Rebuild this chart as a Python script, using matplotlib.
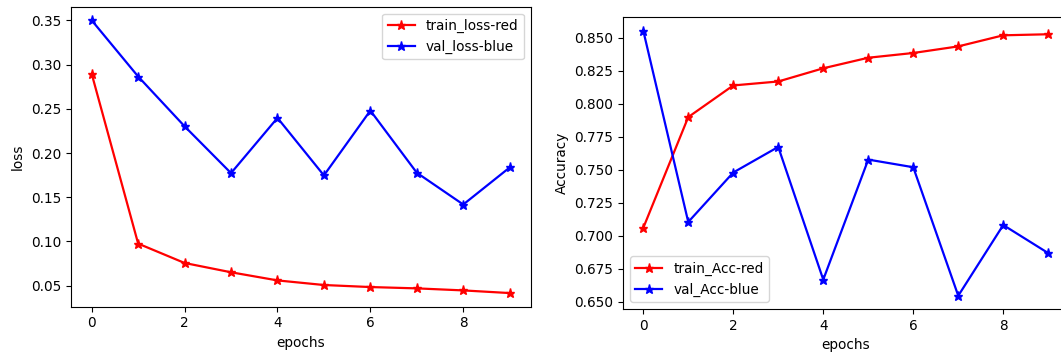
import numpy as np
import matplotlib
matplotlib.use("Agg")
import matplotlib.pyplot as plt

plt.rcParams['font.size'] = 9.8
plt.rcParams['lines.markersize'] = 6.7
plt.rcParams['lines.linewidth'] = 1.6

epochs = np.arange(10)
train_loss = [0.2895, 0.0976, 0.0757, 0.0652, 0.0560, 0.0508, 0.0485, 0.0470, 0.0447, 0.0417]
val_loss = [0.3500, 0.2865, 0.2302, 0.1773, 0.2397, 0.1747, 0.2480, 0.1777, 0.1418, 0.1837]
train_acc = [0.706, 0.790, 0.814, 0.817, 0.827, 0.835, 0.8386, 0.8436, 0.852, 0.8528]
val_acc = [0.8556, 0.7105, 0.748, 0.7674, 0.6668, 0.7578, 0.752, 0.6546, 0.7082, 0.6869]

W, H = 1061, 356
fig = plt.figure(figsize=(W / 100, H / 100), dpi=100)

# left panel: loss
ax1 = fig.add_axes([70.8 / W, 1 - 306.7 / H, (530.6 - 70.8) / W, 300 / H])
ax1.plot(epochs, train_loss, 'r-*', label='train_loss-red')
ax1.plot(epochs, val_loss, 'b-*', label='val_loss-blue')
ax1.set_xlabel('epochs')
ax1.set_ylabel('loss')
ax1.legend(loc='upper right')

# right panel: accuracy (cut off at the right edge in the original)
ax2 = fig.add_axes([623 / W, 1 - 309 / H, (1068.5 - 623) / W, (309 - 17.3) / H])
ax2.plot(epochs, train_acc, 'r-*', label='train_Acc-red')
ax2.plot(epochs, val_acc, 'b-*', label='val_Acc-blue')
ax2.set_xlabel('epochs')
ax2.set_ylabel('Accuracy')
ax2.legend(loc='lower left')

fig.savefig('out.png', dpi=100)
